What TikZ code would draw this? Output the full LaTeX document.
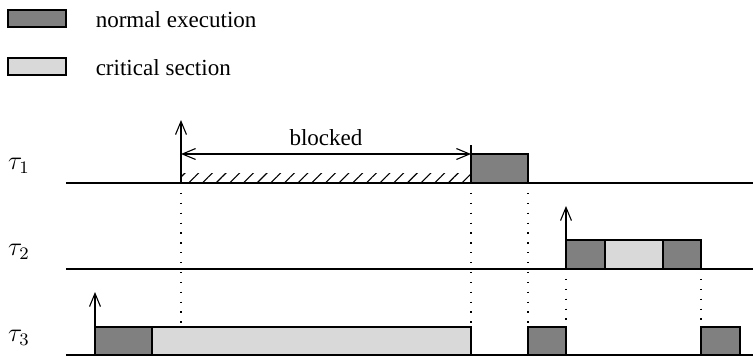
\documentclass[tikz,border=0pt]{standalone}
\usepackage{fontspec}
\setmainfont{Liberation Serif}
\usetikzlibrary{arrows.meta,patterns.meta}

\tikzset{
  normexec/.style={draw, line width=0.7pt, fill=black!50},
  critsec/.style={draw, line width=0.7pt, fill=black!15},
  axisline/.style={line width=0.6pt},
  release/.style={-{Straight Barb[length=6pt,width=5pt]}, line width=0.5pt},
  instant/.style={line width=0.6pt, dash pattern=on 0.6pt off 3.9pt},
  legendtext/.style={anchor=west, font=\fontsize{10.5}{12}\selectfont},
}

\begin{document}
\begin{tikzpicture}[x=0.016cm, y=-0.016cm]
    \useasboundingbox (0,0) rectangle (753,358);

    % Legend
    \draw[normexec] (8,10) rectangle (66,27);
    \node[legendtext] (lnormal) at (88,20) {normal execution};
    \draw[critsec] (8,58) rectangle (66,75);
    \node[legendtext] (lcritical) at (88,68) {critical section};

    % Time lines
    \foreach \y/\i in {183/1, 269/2, 355/3} {
        \node[font=\large] (tau\i) at (19,\y-17) {$\tau_\i$};
        \draw[axisline] (66,\y) coordinate (start\i) -- (753,\y) coordinate (end\i);
    }

    % Dotted instants
    \draw[instant] (181,183) -- (181,327);
    \draw[instant] (471,183) -- (471,327);
    \draw[instant] (528,183) -- (528,327);
    \draw[instant] (566,269) -- (566,327);
    \draw[instant] (701,269) -- (701,327);

    % Task 1
    \path[pattern={Lines[angle=45,distance=4.4pt,line width=0.5pt]}] (181,173) rectangle (471,183);
    \draw[normexec] (471,154) rectangle (528,183);
    \coordinate (blockA) at (181,154);
    \coordinate (blockB) at (471,154);
    \draw[line width=0.5pt] (blockB) -- ++(0,-9);
    \draw[{Straight Barb[length=6pt,width=5pt]}-{Straight Barb[length=6pt,width=5pt]}, line width=0.5pt]
        (blockA) -- node[above=0pt, font=\fontsize{10.5}{12}\selectfont] (lblocked) {blocked} (blockB);
    \draw[release] (181,183) coordinate (rel1) -- ++(0,-63);

    % Task 2
    \draw[normexec] (566,240) rectangle (605,269);
    \draw[critsec] (605,240) rectangle (663,269);
    \draw[normexec] (663,240) rectangle (701,269);
    \draw[release] (566,269) coordinate (rel2) -- ++(0,-63);

    % Task 3
    \draw[normexec] (95,327) rectangle (152,355);
    \draw[critsec] (152,327) rectangle (471,355);
    \draw[normexec] (528,327) rectangle (566,355);
    \draw[normexec] (701,327) rectangle (740,355);
    \draw[release] (95,355) coordinate (rel3) -- ++(0,-63);

\end{tikzpicture}
\end{document}
